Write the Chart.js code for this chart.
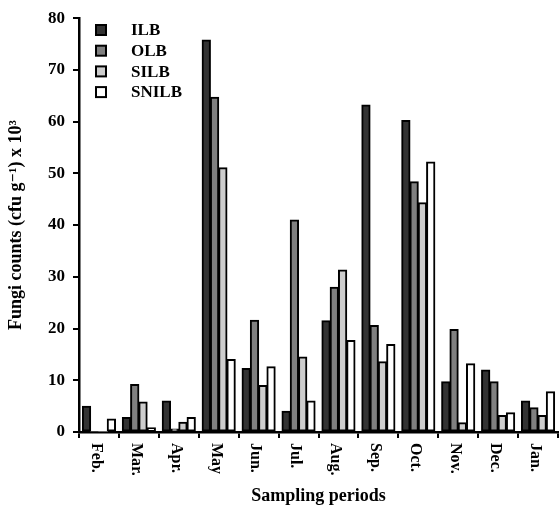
<!DOCTYPE html>
<html>
<head>
<meta charset="utf-8">
<script src="https://cdn.jsdelivr.net/npm/chart.js@4/dist/chart.umd.min.js"></script>
<style>
  html, body { margin: 0; padding: 0; background: #fff; }
  #wrap { width: 559px; height: 515px; }
</style>
</head>
<body>
<div id="wrap"><canvas id="barChart"></canvas></div>
<script>
const months = ["Feb.", "Mar.", "Apr.", "May", "Jun.", "Jul.", "Aug.", "Sep.", "Oct.", "Nov.", "Dec.", "Jan."];
const ilb   = [5.0, 2.8, 6.0, 75.8, 12.3, 4.0, 21.5, 63.2, 60.2, 9.7, 12.0, 6.0];
const olb   = [0, 9.2, 0.6, 64.7, 21.6, 41.0, 28.0, 20.6, 48.4, 19.8, 9.7, 4.7];
const silb  = [0, 5.8, 1.9, 51.1, 9.0, 14.5, 31.3, 13.6, 44.3, 1.8, 3.2, 3.2];
const snilb = [2.5, 0.8, 2.8, 14.0, 12.6, 6.0, 17.7, 16.9, 52.2, 13.2, 3.7, 7.8];
const yTicks = [0, 10, 20, 30, 40, 50, 60, 70, 80];

const serif = "'Liberation Serif', 'DejaVu Serif', serif";

// month labels read top-to-bottom (rotated clockwise), so draw them ourselves
const monthLabels = {
    id: "monthLabels",
    afterDraw(chart) {
        const x = chart.scales.x, c = chart.ctx;
        c.save();
        c.font = "bold 16px " + serif;
        c.fillStyle = "#000";
        c.textAlign = "left";
        c.textBaseline = "middle";
        months.forEach((m, i) => {
            c.save();
            c.translate(x.getPixelForValue(i) - 3, x.top + 11);
            c.rotate(Math.PI / 2);
            c.fillText(m, 0, 0);
            c.restore();
        });
        c.restore();
    }
};

const innerLegend = {
    id: "innerLegend",
    afterDraw(chart) {
        const c = chart.ctx;
        c.save();
        c.font = "bold 17px " + serif;
        c.textBaseline = "middle";
        c.textAlign = "left";
        chart.data.datasets.forEach((ds, i) => {
            const y = 30 + i * 20.7;
            c.fillStyle = ds.backgroundColor;
            c.strokeStyle = "#000";
            c.lineWidth = 2;
            c.fillRect(96, y - 5, 10, 10);
            c.strokeRect(96, y - 5, 10, 10);
            c.fillStyle = "#000";
            c.fillText(ds.label, 131, y + 1);
        });
        c.restore();
    }
};

const mk = (label, data, color) => ({
    label: label,
    data: data,
    backgroundColor: color,
    borderColor: "#000",
    borderWidth: c => (c.raw === 0 ? 0 : 2),
    borderSkipped: false,
    inflateAmount: 0.5,
    barPercentage: 1.0,
    categoryPercentage: 0.83
});

const ctx = document.getElementById("barChart").getContext("2d");
new Chart(ctx, {
    type: "bar",
    data: {
        labels: months,
        datasets: [
            mk("ILB", ilb, "#333333"),
            mk("OLB", olb, "#808080"),
            mk("SILB", silb, "#cdcdcd"),
            mk("SNILB", snilb, "#ffffff")
        ]
    },
    plugins: [monthLabels, innerLegend],
    options: {
        responsive: true,
        maintainAspectRatio: false,
        animation: false,
        layout: { padding: { top: 14, right: 1, left: 0, bottom: 0 } },
        plugins: {
            legend: { display: false },
            tooltip: { enabled: false }
        },
        scales: {
            x: {
                afterFit: s => { s.height = 83; },
                grid: { display: true, drawOnChartArea: false, drawTicks: true, tickLength: 6, color: "#000", lineWidth: 2, offset: true },
                border: { color: "#000", width: 2.5 },
                ticks: { display: false },
                title: {
                    display: true,
                    text: "Sampling periods",
                    color: "#000",
                    font: { family: serif, size: 18, weight: "bold" },
                    padding: { top: 0, bottom: 8 }
                }
            },
            y: {
                min: 0,
                max: 80,
                afterFit: s => { s.width = 79; },
                afterBuildTicks: s => { s.ticks = yTicks.map(v => ({ value: v })); },
                grid: { display: true, drawOnChartArea: false, drawTicks: true, tickLength: 6, color: "#000", lineWidth: 2 },
                border: { color: "#000", width: 2.5 },
                ticks: {
                    color: "#000",
                    padding: 8,
                    font: { family: serif, size: 17, weight: "bold" }
                },
                title: {
                    display: true,
                    text: "Fungi counts (cfu g\u207B\u00B9) x 10\u00B3",
                    color: "#000",
                    font: { family: serif, size: 18, weight: "bold" },
                    padding: { top: 6, bottom: 0 }
                }
            }
        }
    }
});
</script>
</body>
</html>
